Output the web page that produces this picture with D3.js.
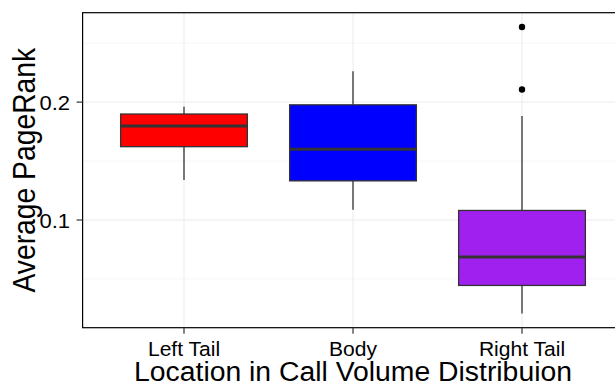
<!DOCTYPE html>
<html>
<head>
<meta charset="utf-8">
<script src="https://cdn.jsdelivr.net/npm/d3@7"></script>
<style>
  html, body { margin: 0; padding: 0; background: #fff; }
  svg { display: block; }
  text { font-family: "Liberation Sans", Arial, Helvetica, sans-serif; fill: #000; }
</style>
</head>
<body>
<svg id="chart" width="615" height="386"></svg>
<script>
// Box-plot summary per group
const categories = ["Left Tail", "Body", "Right Tail"];
const whiskerLow = [0.134, 0.1087, 0.0208];
const q1 = [0.1622, 0.1332, 0.0445];
const median = [0.1797, 0.160, 0.0687];
const q3 = [0.1899, 0.1977, 0.1081];
const whiskerHigh = [0.196, 0.2262, 0.1882];
const outliers = [[], [], [0.2107, 0.2637]];
const fills = ["#FF0000", "#0000FF", "#A020F0"];

const yMajorTicks = [0.1, 0.2];
const yMinorTicks = [0.05, 0.15, 0.25];
const yTickLabels = ["0.1", "0.2"];

const xTitle = "Location in Call Volume Distribuion";
const yTitle = "Average PageRank";

const svg = d3.select("#chart");
const panel = { left: 82.6, right: 623.4, top: 12.7, bottom: 327.7 };
const sx = 1.08; // horizontal glyph stretch

// y domain: data range expanded by 5% on each side
const allVals = whiskerLow.concat(whiskerHigh, outliers.flat());
const lo = d3.min(allVals), hi = d3.max(allVals);
const pad = (hi - lo) * 0.05;
const y = d3.scaleLinear().domain([lo - pad, hi + pad]).range([panel.bottom, panel.top]);
const x = d3.scalePoint().domain(categories).range([panel.left, panel.right]).padding(0.6);
const boxW = x.step() * 0.75;

const g = svg.append("g");

// grid
g.selectAll("line.minor").data(yMinorTicks).join("line")
  .attr("x1", panel.left).attr("x2", panel.right)
  .attr("y1", d => y(d)).attr("y2", d => y(d))
  .attr("stroke", "#f4f4f4").attr("stroke-width", 0.8);
g.selectAll("line.majorY").data(yMajorTicks).join("line")
  .attr("x1", panel.left).attr("x2", panel.right)
  .attr("y1", d => y(d)).attr("y2", d => y(d))
  .attr("stroke", "#ebebeb").attr("stroke-width", 1);
g.selectAll("line.majorX").data(categories).join("line")
  .attr("x1", d => x(d)).attr("x2", d => x(d))
  .attr("y1", panel.top).attr("y2", panel.bottom)
  .attr("stroke", "#ebebeb").attr("stroke-width", 1);

// boxes
const idx = d3.range(categories.length);
const box = g.selectAll("g.box").data(idx).join("g");
box.append("line")
  .attr("x1", i => x(categories[i])).attr("x2", i => x(categories[i]))
  .attr("y1", i => y(q3[i])).attr("y2", i => y(whiskerHigh[i]))
  .attr("stroke", "#333").attr("stroke-width", 1.3);
box.append("line")
  .attr("x1", i => x(categories[i])).attr("x2", i => x(categories[i]))
  .attr("y1", i => y(q1[i])).attr("y2", i => y(whiskerLow[i]))
  .attr("stroke", "#333").attr("stroke-width", 1.3);
box.append("rect")
  .attr("x", i => x(categories[i]) - boxW / 2).attr("width", boxW)
  .attr("y", i => y(q3[i])).attr("height", i => y(q1[i]) - y(q3[i]))
  .attr("fill", i => fills[i]).attr("stroke", "#333").attr("stroke-width", 1.3);
box.append("line")
  .attr("x1", i => x(categories[i]) - boxW / 2).attr("x2", i => x(categories[i]) + boxW / 2)
  .attr("y1", i => y(median[i])).attr("y2", i => y(median[i]))
  .attr("stroke", "#333").attr("stroke-width", 3);
box.each(function (i) {
  d3.select(this).selectAll("circle").data(outliers[i]).join("circle")
    .attr("cx", x(categories[i])).attr("cy", d => y(d)).attr("r", 3.2).attr("fill", "#000");
});

// panel border
g.append("rect")
  .attr("x", panel.left).attr("y", panel.top)
  .attr("width", panel.right - panel.left).attr("height", panel.bottom - panel.top)
  .attr("fill", "none").attr("stroke", "#000").attr("stroke-width", 1.2);

// y axis ticks and labels
g.selectAll("line.yt").data(yMajorTicks).join("line")
  .attr("x1", panel.left - 6).attr("x2", panel.left)
  .attr("y1", d => y(d)).attr("y2", d => y(d))
  .attr("stroke", "#333").attr("stroke-width", 1.2);
g.selectAll("text.yl").data(yMajorTicks).join("text")
  .attr("transform", d => `translate(70,${y(d) + 7.5}) scale(1.1,1)`)
  .attr("text-anchor", "end").attr("font-size", 20)
  .text((d, i) => yTickLabels[i]);

// x axis ticks and labels
g.selectAll("line.xt").data(categories).join("line")
  .attr("x1", d => x(d)).attr("x2", d => x(d))
  .attr("y1", panel.bottom).attr("y2", panel.bottom + 6)
  .attr("stroke", "#333").attr("stroke-width", 1.2);
g.selectAll("text.xl").data(categories).join("text")
  .attr("transform", d => `translate(${x(d)},356) scale(${sx},1)`)
  .attr("text-anchor", "middle").attr("font-size", 19.5)
  .text(d => d);

// axis titles
g.append("text")
  .attr("transform", `translate(${(panel.left + panel.right) / 2},381) scale(1.05,1)`)
  .attr("text-anchor", "middle").attr("font-size", 27)
  .text(xTitle);
g.append("text")
  .attr("transform", `translate(35,${(panel.top + panel.bottom) / 2}) rotate(-90) scale(1,${sx})`)
  .attr("text-anchor", "middle").attr("font-size", 28.3)
  .text(yTitle);
</script>
</body>
</html>
